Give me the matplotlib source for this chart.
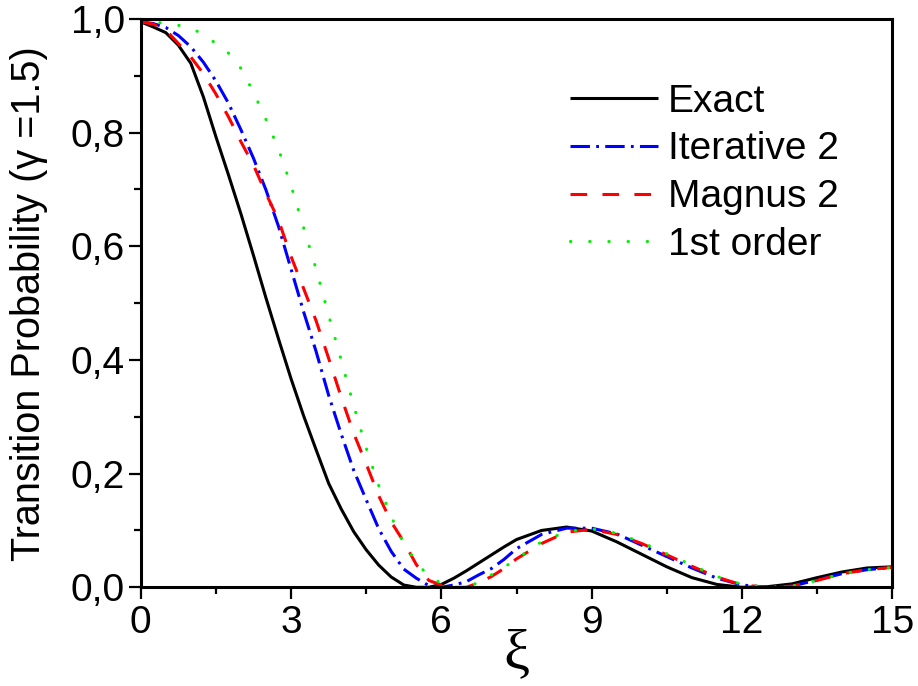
import matplotlib
matplotlib.use("Agg")
import matplotlib.pyplot as plt

plt.rcParams['font.family'] = ['Liberation Sans', 'DejaVu Sans']
plt.rcParams['lines.scale_dashes'] = False

xi = [0, 0.25, 0.5, 0.75, 1.0, 1.25, 1.5, 1.75, 2.0, 2.25, 2.5, 2.75, 3.0, 3.25, 3.5, 3.75,
      4.0, 4.25, 4.5, 4.75, 5.0, 5.25, 5.5, 5.75, 6.0, 6.25, 6.5, 6.75, 7.0, 7.25,
      7.5, 8.0, 8.5, 9.0, 9.5, 10.0, 10.5, 11.0, 11.5, 12.0, 12.5, 13.0, 13.5, 14.0, 14.5, 15.0]

exact = [0.995, 0.986, 0.976, 0.954, 0.922, 0.863, 0.793, 0.726, 0.657, 0.584, 0.509, 0.437,
         0.367, 0.302, 0.242, 0.183, 0.138, 0.098, 0.066, 0.039, 0.018, 0.004, 0.0, 0.0,
         0.005, 0.016, 0.029, 0.043, 0.057, 0.071,
         0.084, 0.100, 0.106, 0.099, 0.080, 0.058, 0.036, 0.017, 0.005, 0.0, 0.001, 0.006,
         0.017, 0.027, 0.034, 0.036]

iterative2 = [0.995, 0.992, 0.985, 0.971, 0.951, 0.924, 0.891, 0.852, 0.805, 0.755, 0.699, 0.635,
              0.560, 0.485, 0.415, 0.338, 0.270, 0.206, 0.154, 0.103, 0.063, 0.032, 0.016, 0.003,
              0.0, 0.004, 0.010, 0.022, 0.033, 0.049,
              0.068, 0.093, 0.104, 0.104, 0.094, 0.074, 0.054, 0.034, 0.016, 0.004, 0.0, 0.002,
              0.013, 0.024, 0.031, 0.035]

magnus2 = [0.995, 0.991, 0.981, 0.957, 0.933, 0.904, 0.868, 0.828, 0.784, 0.743, 0.693, 0.646,
           0.582, 0.526, 0.469, 0.403, 0.335, 0.271, 0.217, 0.161, 0.115, 0.080, 0.040, 0.012,
           0.004, 0.0, 0.0, 0.008, 0.019, 0.033,
           0.050, 0.077, 0.097, 0.102, 0.093, 0.077, 0.057, 0.037, 0.018, 0.004, 0.0, 0.002,
           0.012, 0.024, 0.031, 0.035]

first_order = [0.997, 0.995, 0.992, 0.989, 0.984, 0.973, 0.957, 0.940, 0.913, 0.871, 0.823, 0.771,
               0.707, 0.633, 0.560, 0.479, 0.400, 0.320, 0.245, 0.179, 0.124, 0.078, 0.044, 0.019,
               0.007, 0.0, 0.002, 0.008, 0.022, 0.035,
               0.050, 0.080, 0.098, 0.103, 0.095, 0.079, 0.059, 0.039, 0.019, 0.005, 0.0, 0.002,
               0.012, 0.024, 0.031, 0.035]

series_names = ["Exact", "Iterative 2", "Magnus 2", "1st order"]

xticks = [0, 3, 6, 9, 12, 15]
xtick_labels = ["0", "3", "6", "9", "12", "15"]
yticks = [0.0, 0.2, 0.4, 0.6, 0.8, 1.0]
ytick_labels = ["0,0", "0,2", "0,4", "0,6", "0,8", "1,0"]

fig = plt.figure(figsize=(9.18, 6.86), dpi=100)
ax = fig.add_axes([0.1533, 0.1439, 0.8187, 0.8284])

lw = 2.2
ax.plot(xi, exact, color='black', lw=lw, solid_capstyle='butt', label=series_names[0])
ax.plot(xi, iterative2, color='#0000ff', lw=lw, linestyle=(0, (14, 4.5, 2, 4.5)),
        dash_capstyle='butt', label=series_names[1])
ax.plot(xi, magnus2, color='#ff0000', lw=lw, linestyle=(0, (12, 11)),
        dash_capstyle='butt', label=series_names[2])
ax.plot(xi, first_order, color='#00f000', lw=lw, linestyle=(0, (0.3, 13.5)),
        dash_capstyle='round', label=series_names[3])

ax.set_xlim(0, 15)
ax.set_ylim(0, 1.0)
ax.set_xticks(xticks)
ax.set_xticklabels(xtick_labels)
ax.set_yticks(yticks)
ax.set_yticklabels(ytick_labels)
ax.set_xticks([1.5, 4.5, 7.5, 10.5, 13.5], minor=True)
ax.set_yticks([0.1, 0.3, 0.5, 0.7, 0.9], minor=True)

for s in ax.spines.values():
    s.set_linewidth(2.2)

ax.tick_params(axis='both', which='major', direction='out', length=8.5, width=1.6,
               labelsize=28, pad=3)
ax.tick_params(axis='both', which='minor', direction='out', length=5, width=1.6)
ax.tick_params(axis='x', which='major', pad=4)

ax.set_ylabel("Transition Probability (\u03b3 =1.5)", fontsize=28.5, labelpad=16)
ax.set_xlabel("\u03be", fontsize=42, family=['Liberation Serif', 'DejaVu Serif'],
              labelpad=-9)

leg = ax.legend(loc='upper left', bbox_to_anchor=(0.571, 0.886), frameon=False,
                fontsize=28, handlelength=2.26, handletextpad=0.26, labelspacing=0.3,
                borderpad=0, borderaxespad=0)

fig.savefig("out.png", dpi=100)
